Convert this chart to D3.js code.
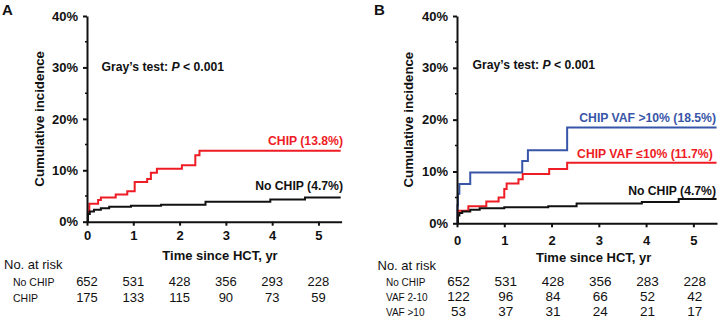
<!DOCTYPE html>
<html>
<head>
<meta charset="utf-8">
<script src="https://cdn.jsdelivr.net/npm/d3@7"></script>
<style>
    body { margin: 0; background: #fff; }
    text { font-family: "Liberation Sans", Arial, sans-serif; }
</style>
</head>
<body>
<div id="graph"></div>
<script>
const width = 722, height = 320;
const red = "#ee1c24", blue = "#3856a8", black = "#111";

// time ticks (years) and incidence ticks (%)
const yearTicks = [0, 1, 2, 3, 4, 5];
const pctTicks = [0, 10, 20, 30, 40];
const pctMinor = [5, 15, 25, 35];

// panel A curves: [year, cumulative incidence %]
const chipA = [[0, 0], [0.02, 2.0], [0.05, 3.5], [0.24, 4.2], [0.3, 4.7], [0.62, 5.3], [0.87, 5.9], [1.03, 7.7],
    [1.3, 8.3], [1.38, 9.5], [1.51, 10.3], [2.05, 11.0], [2.34, 12.9], [2.43, 13.8], [5.48, 13.8]];
const noChipA = [[0, 0], [0.02, 1.5], [0.06, 2.0], [0.15, 2.3], [0.3, 2.6], [0.48, 2.9], [0.95, 3.1], [1.6, 3.3],
    [2.56, 3.9], [3.96, 4.3], [4.71, 4.7], [5.48, 4.7]];

// panel B curves
const vafHighB = [[0, 0], [0.01, 3.5], [0.02, 5.7], [0.05, 7.6], [0.28, 9.8], [1.38, 12.0], [1.5, 14.1],
    [2.33, 18.5], [5.49, 18.5]];
const vafLowB = [[0, 0], [0.02, 2.4], [0.24, 3.3], [0.62, 4.2], [0.88, 5.0], [1.0, 6.6], [1.05, 7.7], [1.3, 8.5],
    [1.39, 9.5], [1.95, 10.5], [2.33, 11.7], [5.49, 11.7]];
const noChipB = [[0, 0], [0.02, 1.5], [0.05, 2.0], [0.11, 2.3], [0.28, 2.6], [0.48, 2.9], [1.0, 3.1], [1.93, 3.3],
    [2.53, 3.8], [3.91, 4.1], [4.69, 4.7], [5.49, 4.7]];

// numbers at risk
const riskRowsA = ["No CHIP", "CHIP"];
const riskA = [[652, 531, 428, 356, 293, 228], [175, 133, 115, 90, 73, 59]];
const riskRowsB = ["No CHIP", "VAF 2-10", "VAF >10"];
const riskB = [[652, 531, 428, 356, 283, 228], [122, 96, 84, 66, 52, 42], [53, 37, 31, 24, 21, 17]];

const svg = d3.select("#graph").append("svg")
    .attr("width", width)
    .attr("height", height);

const drawPanel = (p) => {
    const xScale = d3.scaleLinear().domain([0, 5.5]).range([p.x0, p.x1]);
    const yScale = d3.scaleLinear().domain([0, 40]).range([p.y0, p.y1]);

    // curves
    const line = d3.line()
        .x(d => xScale(d[0]))
        .y(d => yScale(d[1]))
        .curve(d3.curveStepAfter);
    p.curves.forEach(c => {
        svg.append("path")
            .attr("d", line(c.data))
            .attr("fill", "none")
            .attr("stroke", c.color)
            .attr("stroke-width", 2);
        svg.append("text")
            .attr("x", c.lx)
            .attr("y", c.ly)
            .attr("text-anchor", "end")
            .attr("font-size", 12.2)
            .attr("font-weight", "bold")
            .attr("fill", c.color)
            .text(c.label);
    });

    // y axis
    const yAxis = svg.append("g")
        .attr("transform", "translate(" + p.x0 + ",0)")
        .call(d3.axisLeft(yScale).tickValues(pctTicks).tickSize(4).tickSizeOuter(0)
            .tickPadding(5).tickFormat(d => d + "%"));
    yAxis.selectAll(".minor")
        .data(pctMinor)
        .enter().append("line")
        .attr("x1", -2).attr("x2", 0)
        .attr("y1", d => yScale(d)).attr("y2", d => yScale(d))
        .attr("stroke", black).attr("stroke-width", 1.5);

    // x axis
    const xAxis = svg.append("g")
        .attr("transform", "translate(0," + p.y0 + ")")
        .call(d3.axisBottom(xScale).tickValues(yearTicks).tickSize(4).tickSizeOuter(0)
            .tickPadding(p.xPad).tickFormat(d3.format("d")));

    [yAxis, xAxis].forEach(a => {
        a.select(".domain").attr("stroke", black).attr("stroke-width", 2);
        a.selectAll(".tick line").attr("stroke", black).attr("stroke-width", 2);
        a.selectAll("text")
            .attr("font-family", "Liberation Sans, Arial, sans-serif")
            .attr("font-size", 13)
            .attr("font-weight", "bold")
            .attr("fill", black);
    });

    // axis titles
    svg.append("text")
        .attr("transform", "translate(" + p.yTitleX + "," + ((p.y0 + p.y1) / 2) + ") rotate(-90)")
        .attr("text-anchor", "middle")
        .attr("font-size", 13.2)
        .attr("font-weight", "bold")
        .attr("fill", black)
        .text("Cumulative incidence");
    svg.append("text")
        .attr("x", p.xTitleX)
        .attr("y", p.xTitleY)
        .attr("text-anchor", "middle")
        .attr("font-size", 13)
        .attr("font-weight", "bold")
        .attr("fill", black)
        .text("Time since HCT, yr");

    // panel letter
    svg.append("text")
        .attr("x", p.letterX)
        .attr("y", 15)
        .attr("font-size", 15)
        .attr("font-weight", "bold")
        .attr("fill", black)
        .text(p.letter);

    // Gray's test
    const gray = svg.append("text")
        .attr("x", p.grayX)
        .attr("y", p.grayY)
        .attr("font-size", 12.2)
        .attr("font-weight", "bold")
        .attr("fill", black);
    gray.append("tspan").text("Gray\u2019s test: ");
    gray.append("tspan").attr("font-style", "italic").text("P");
    gray.append("tspan").text(" < 0.001");

    // number at risk table
    svg.append("text")
        .attr("x", p.riskX)
        .attr("y", p.riskY)
        .attr("font-size", 13)
        .attr("fill", black)
        .text("No. at risk");
    p.rows.forEach((name, i) => {
        const y = p.rowY0 + i * p.rowStep;
        svg.append("text")
            .attr("x", p.rowX)
            .attr("y", y)
            .attr("font-size", p.rowFont)
            .attr("fill", black)
            .text(name);
        svg.selectAll(null)
            .data(p.risk[i])
            .enter().append("text")
            .attr("x", (d, j) => xScale(yearTicks[j]) + p.numShift)
            .attr("y", y)
            .attr("text-anchor", "middle")
            .attr("font-size", p.numFont)
            .attr("fill", black)
            .text(d => d);
    });
};

drawPanel({
    letter: "A", letterX: 2,
    x0: 87, x1: 341.6, y0: 221.7, y1: 16, xPad: 5,
    yTitleX: 44, xTitleX: 220, xTitleY: 259.5,
    grayX: 101.5, grayY: 70.5,
    curves: [
        { data: chipA, color: red, label: "CHIP (13.8%)", lx: 343, ly: 145 },
        { data: noChipA, color: black, label: "No CHIP (4.7%)", lx: 343, ly: 189.5 }
    ],
    riskX: 4, riskY: 269, rows: riskRowsA, risk: riskA,
    rowX: 13, rowY0: 285.7, rowStep: 16, rowFont: 10.5, numFont: 13, numShift: 0
});

drawPanel({
    letter: "B", letterX: 374,
    x0: 457, x1: 717, y0: 223.3, y1: 16, xPad: 8.5,
    yTitleX: 413, xTitleX: 593.7, xTitleY: 262,
    grayX: 472.5, grayY: 68.5,
    curves: [
        { data: vafHighB, color: blue, label: "CHIP VAF >10% (18.5%)", lx: 716, ly: 121.5 },
        { data: vafLowB, color: red, label: "CHIP VAF \u226410% (11.7%)", lx: 712.7, ly: 158.3 },
        { data: noChipB, color: black, label: "No CHIP (4.7%)", lx: 716, ly: 195 }
    ],
    riskX: 377.5, riskY: 270, rows: riskRowsB, risk: riskB,
    rowX: 386, rowY0: 286, rowStep: 15.2, rowFont: 10, numFont: 13.5, numShift: 1.5
});
</script>
</body>
</html>
